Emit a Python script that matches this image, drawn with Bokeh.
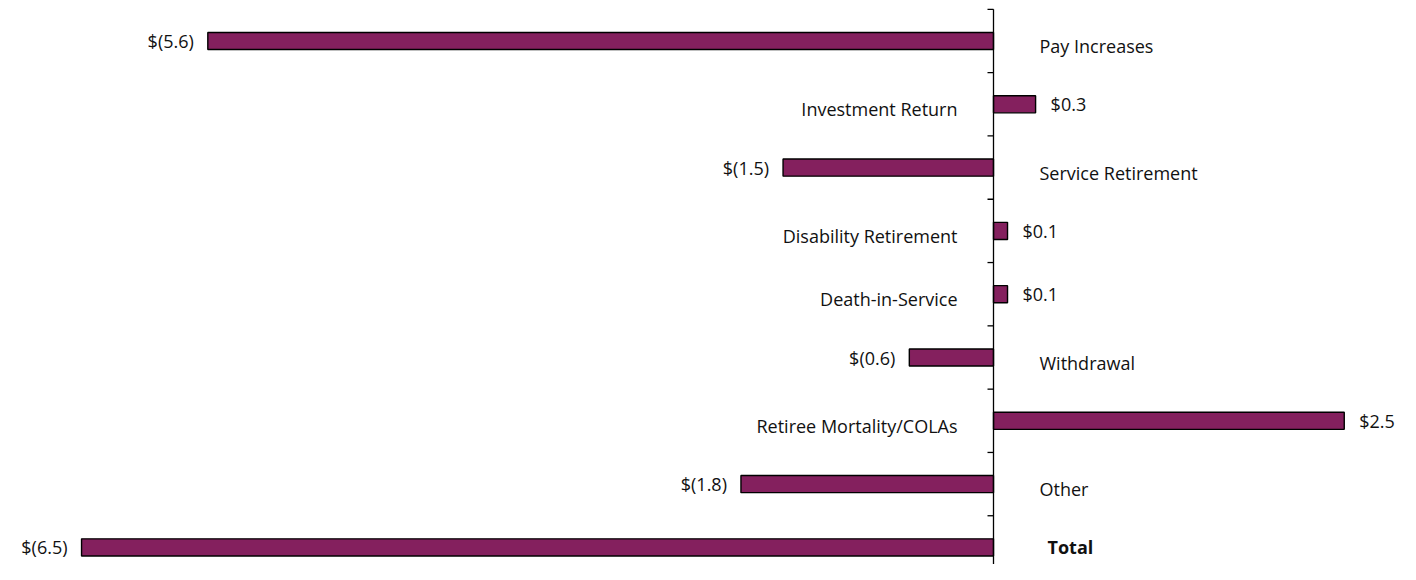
from bokeh.plotting import figure
from bokeh.models import ColumnDataSource, Range1d
from bokeh.core.properties import value
from bokeh.embed import file_html
from bokeh.resources import INLINE

categories = ["Pay Increases", "Investment Return", "Service Retirement",
              "Disability Retirement", "Death-in-Service", "Withdrawal",
              "Retiree Mortality/COLAs", "Other", "Total"]
values = [-5.6, 0.3, -1.5, 0.1, 0.1, -0.6, 2.5, -1.8, -6.5]

def fmt(v):
    return "$(%.1f)" % abs(v) if v < 0 else "$%.1f" % v

n = len(categories)
ypos = list(range(n))
labels = [fmt(v) for v in values]

W, H = 1400, 564
px_per_unit = 140.3
zero_px = 993
x0 = -zero_px / px_per_unit
x1 = (W - zero_px) / px_per_unit
band = 63.3
top_center = 40.5
y_top = -top_center / band
y_bot = (H - top_center) / band

p = figure(width=W, height=H, output_backend="svg", toolbar_location=None,
           x_range=Range1d(x0, x1), y_range=Range1d(y_bot, y_top),
           min_border=0, outline_line_color=None)
p.xaxis.visible = False
p.yaxis.visible = False
p.xgrid.visible = False
p.ygrid.visible = False
p.background_fill_color = "white"
p.border_fill_color = "white"

src = ColumnDataSource(dict(y=ypos, v=values, cat=categories, lab=labels))
p.hbar(y="y", left=0, right="v", height=0.27, source=src,
       fill_color="#84205E", line_color="#000000", line_width=1.4)

# axis line and ticks
p.segment(x0=[0], y0=[-0.5], x1=[0], y1=[y_bot], line_color="black", line_width=1.3)
tick_len = 6 / px_per_unit
ticks = [i - 0.5 for i in range(n)]
p.segment(x0=[-tick_len] * n, y0=ticks, x1=[0] * n, y1=ticks,
          line_color="black", line_width=1.3)

font = value("Open Sans")
neg = [i for i, v in enumerate(values) if v < 0]
pos = [i for i, v in enumerate(values) if v >= 0]

def sub(idx):
    return ColumnDataSource(dict(y=[ypos[i] for i in idx], v=[values[i] for i in idx],
                                 cat=[categories[i] for i in idx],
                                 lab=[labels[i] for i in idx]))

sn, sp = sub(neg), sub(pos)
# value labels
p.text(x="v", y="y", text="lab", source=sn, x_offset=-14, text_align="right",
       text_baseline="middle", text_font=font, text_font_size="18px", text_color="#111111")
p.text(x="v", y="y", text="lab", source=sp, x_offset=15, text_align="left",
       text_baseline="middle", text_font=font, text_font_size="18px", text_color="#111111")
# category labels on the opposite side of the axis
p.text(x=0, y="y", text="cat", source=sub([i for i in neg if categories[i] != "Total"]),
       x_offset=46, y_offset=5, text_align="left", text_baseline="middle",
       text_font=font, text_font_size="18px", text_color="#111111")
p.text(x=0, y="y", text="cat", source=sub([i for i in neg if categories[i] == "Total"]),
       x_offset=54, y_offset=0, text_align="left", text_baseline="middle",
       text_font=font, text_font_size="18px", text_font_style="bold", text_color="#111111")
p.text(x=0, y="y", text="cat", source=sp, x_offset=-36, y_offset=5, text_align="right",
       text_baseline="middle", text_font=font, text_font_size="18px", text_color="#111111")

open("out.html", "w").write(file_html(p, INLINE))
